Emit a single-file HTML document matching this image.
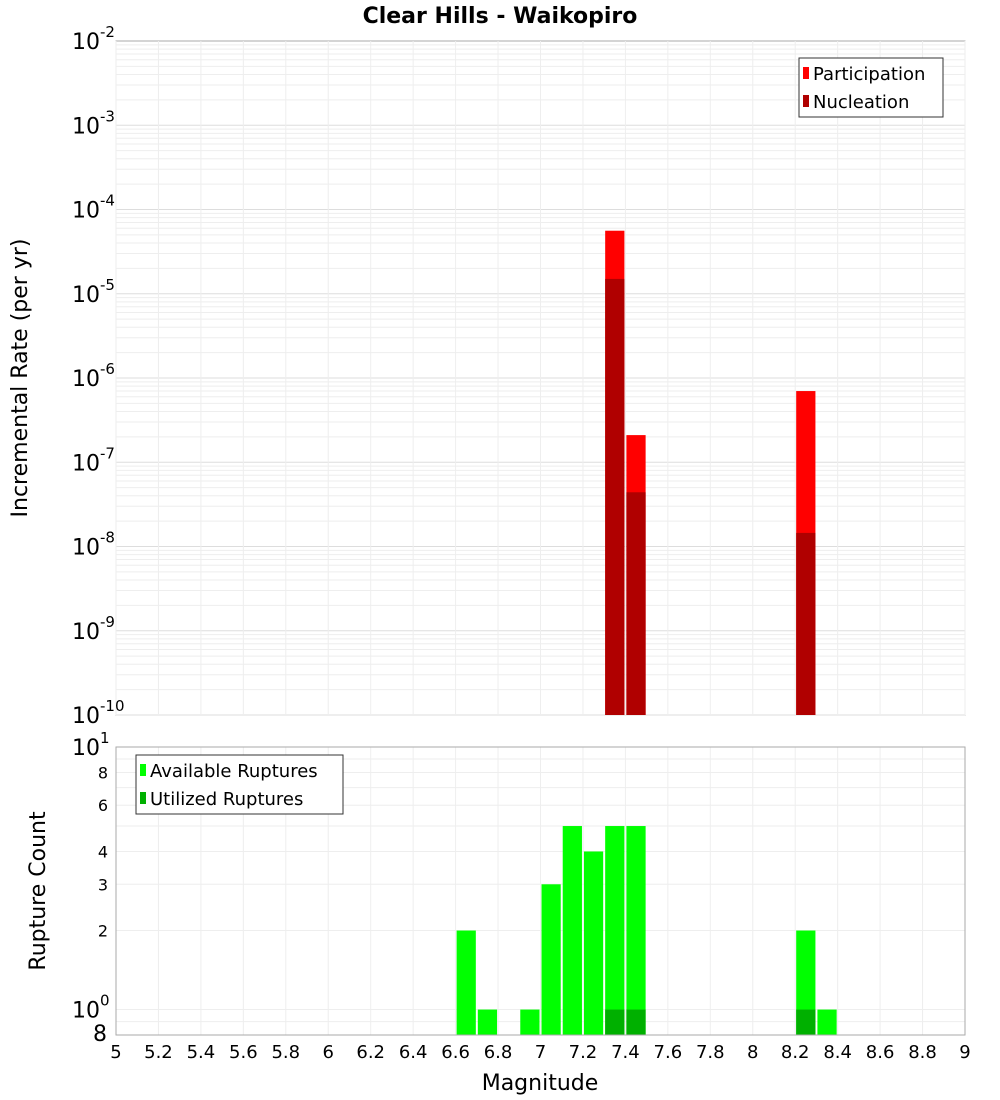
<!DOCTYPE html>
<html><head><meta charset="utf-8"><style>
body{margin:0;background:#fff;font-family:"DejaVu Sans","Liberation Sans",sans-serif}
svg{display:block}
</style></head><body>
<svg id="c" width="1000" height="1100" xmlns="http://www.w3.org/2000/svg">
<text x="500" y="23" text-anchor="middle" font-size="22" font-weight="bold">Clear Hills - Waikopiro</text>
<g id="topg"></g><g id="botg"></g>
</svg>
<script>
const mags = [7.35, 7.45, 8.25];
const participation = [5.6e-5, 2.1e-7, 7e-7];
const nucleation = [1.5e-5, 4.4e-8, 1.45e-8];
const availMags = [6.65, 6.75, 6.95, 7.05, 7.15, 7.25, 7.35, 7.45, 8.25, 8.35];
const available = [2, 1, 1, 3, 5, 4, 5, 5, 2, 1];
const utilMags = [7.35, 7.45, 8.25];
const utilized = [1, 1, 1];
const xTicks = [5,5.2,5.4,5.6,5.8,6,6.2,6.4,6.6,6.8,7,7.2,7.4,7.6,7.8,8,8.2,8.4,8.6,8.8,9];
const topExps = [-2,-3,-4,-5,-6,-7,-8,-9,-10];
const botTicks = [10,8,6,4,3,2,1,0.8];

const NS="http://www.w3.org/2000/svg";
const X0=116,X1=965;
const x=m=>X0+(m-5)/4*(X1-X0);
const T0=41,T1=715;
const yT=v=>T0+(-2-Math.log10(v))/8*(T1-T0);
const B0=747,B1=1035;
const yB=v=>B0+(1-Math.log10(v))/(1-Math.log10(0.8))*(B1-B0);
function el(p,tag,a,txt){const e=document.createElementNS(NS,tag);for(const k in a)e.setAttribute(k,a[k]);if(txt!=null)e.textContent=txt;p.appendChild(e);return e;}
const gTop=document.getElementById('topg'),gBot=document.getElementById('botg');

el(gTop,'rect',{x:X0,y:T0,width:X1-X0,height:T1-T0,fill:'#fff',stroke:'#aaa'});
for(let e=-10;e<-2;e++)for(let k=1;k<10;k++){const yy=yT(k*Math.pow(10,e));el(gTop,'line',{x1:X0,x2:X1,y1:yy,y2:yy,stroke:k==1?'#ddd':'#eee','stroke-width':1});}
xTicks.forEach(t=>{el(gTop,'line',{x1:x(t),x2:x(t),y1:T0,y2:T1,stroke:'#eee'});el(gBot,'line',{x1:x(t),x2:x(t),y1:B0,y2:B1,stroke:'#eee'});});
mags.forEach((m,i)=>{
 const bw=x(0.1)-x(0)-2;
 const r=el(gTop,'rect',{x:x(m)-bw/2,y:yT(participation[i]),width:bw,height:T1-yT(participation[i]),fill:'#ff0000'});
 
 
 const n=el(gTop,'rect',{x:x(m)-bw/2,y:yT(nucleation[i]),width:bw,height:T1-yT(nucleation[i]),fill:'#b00000'});
 
 
});
topExps.forEach(e=>{
 const yy=yT(Math.pow(10,e));
 const t=el(gTop,'text',{x:72,y:yy+8,'font-size':22});
 
 
 el(t,'tspan',{},'10');el(t,'tspan',{dy:-12,'font-size':15},String(e));
});
const yl=el(gTop,'text',{x:0,y:0,transform:'translate(27,378) rotate(-90)','text-anchor':'middle','font-size':22},'Incremental Rate (per yr)');


const lg=el(gTop,'g',{});


el(lg,'rect',{x:799,y:58,width:144,height:59,fill:'#fff',stroke:'#333'});
el(lg,'rect',{x:803,y:67,width:6,height:12,fill:'#ff0000'});
el(lg,'text',{x:813,y:80,'font-size':18},'Participation');
el(lg,'rect',{x:803,y:95,width:6,height:12,fill:'#b00000'});
el(lg,'text',{x:813,y:108,'font-size':18},'Nucleation');

[0.8,0.9,1,2,3,4,5,6,7,8,9].forEach(v=>{const yy=yB(v);el(gBot,'line',{x1:X0,x2:X1,y1:yy,y2:yy,stroke:'#eee'});});
availMags.forEach((m,i)=>{
 const bw=x(0.1)-x(0)-2;
 const r=el(gBot,'rect',{x:x(m)-bw/2,y:yB(available[i]),width:bw,height:B1-yB(available[i]),fill:'#00ff00'});
 
 
});
utilMags.forEach((m,i)=>{
 const bw=x(0.1)-x(0)-2;
 const r=el(gBot,'rect',{x:x(m)-bw/2,y:yB(utilized[i]),width:bw,height:B1-yB(utilized[i]),fill:'#00b000'});
 
 
});
el(gBot,'rect',{x:X0,y:B0,width:X1-X0,height:B1-B0,fill:'none',stroke:'#aaa'});
botTicks.forEach(v=>{
 const yy=yB(v);let t;
 if(v==10||v==1){t=el(gBot,'text',{x:72,y:yy+8,'font-size':22});el(t,'tspan',{},'10');el(t,'tspan',{dy:-12,'font-size':15},v==10?'1':'0');}
 else t=el(gBot,'text',{x:v==0.8?107:108,y:yy+6,'text-anchor':'end','font-size':v==0.8?22:16},v==0.8?'8':String(v));
 
 
});
xTicks.forEach(t=>{
 const tx=el(gBot,'text',{x:x(t),y:1058,'text-anchor':'middle','font-size':18},String(t));
 
 
});
const bl=el(gBot,'text',{x:0,y:0,transform:'translate(45,891) rotate(-90)','text-anchor':'middle','font-size':22},'Rupture Count');


const xl=el(gBot,'text',{x:540,y:1090,'text-anchor':'middle','font-size':22},'Magnitude');


const lg2=el(gBot,'g',{});


el(lg2,'rect',{x:136,y:755,width:207,height:59,fill:'#fff',stroke:'#333'});
el(lg2,'rect',{x:140,y:764,width:6,height:12,fill:'#00ff00'});
el(lg2,'text',{x:150,y:777,'font-size':18},'Available Ruptures');
el(lg2,'rect',{x:140,y:792,width:6,height:12,fill:'#00b000'});
el(lg2,'text',{x:150,y:805,'font-size':18},'Utilized Ruptures');
</script>
</body></html>
